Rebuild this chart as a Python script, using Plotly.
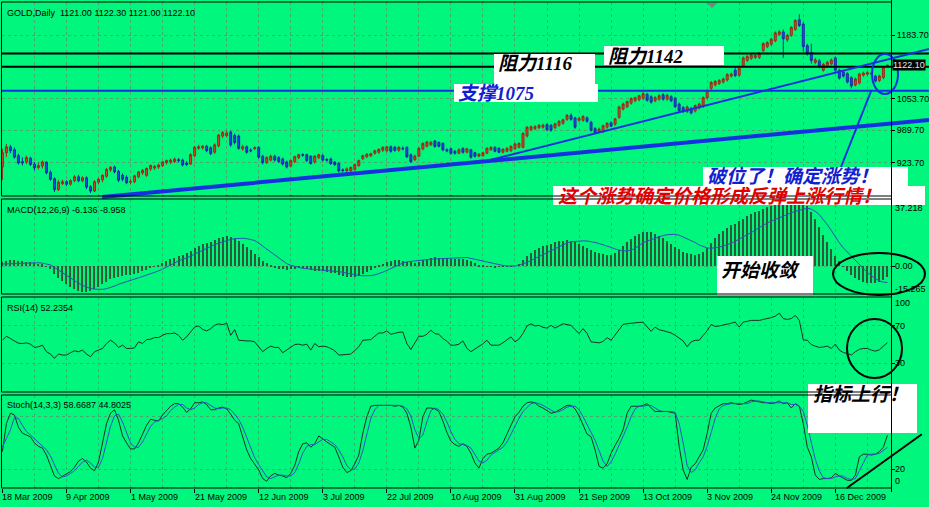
import plotly.graph_objects as go

# ------------------------------------------------------------------ data
OPEN = [915,944,956,950,938,926,925,933,921,914,
917,925,904,891,869,881,885,880,887,895,
887,893,875,866,884,889,896,909,915,906,
898,894,884,885,895,903,898,911,913,915,
918,924,925,926,930,929,923,921,938,953,
954,957,954,945,958,978,979,986,979,978,
952,956,949,952,955,937,924,929,937,934,
931,925,917,926,934,940,940,937,925,934,
938,930,931,925,922,909,907,907,910,918,
932,936,938,943,945,949,948,956,955,949,
953,955,940,930,937,952,957,960,968,965,
963,950,952,947,943,953,945,950,944,937,
938,943,950,955,953,945,947,948,952,955,
955,978,991,993,995,996,1001,1000,995,1000,
1004,1012,1020,1015,1010,1010,1015,1006,993,987,
987,996,1005,1002,1016,1033,1038,1045,1050,1052,
1055,1063,1058,1050,1053,1062,1053,1058,1055,1043,
1036,1028,1034,1029,1035,1038,1056,1075,1082,1085,
1088,1092,1100,1112,1102,1121,1132,1136,1138,1138,
1152,1160,1165,1172,1185,1190,1174,1183,1195,1215,
1206,1162,1148,1128,1131,1112,1120,1125,1137,1112,
1108,1105,1097,1082,1086,1102,1104,1106,1100,1091,
1097,1121]
HIGH = [952,962,960,955,942,935,938,936,925,924,
928,927,908,894,888,889,888,890,898,899,
896,896,878,888,893,900,913,917,918,909,
902,898,890,899,907,911,914,920,919,922,
927,930,932,934,933,932,927,943,958,960,
960,960,957,963,982,988,989,989,983,981,
960,959,953,957,957,940,937,940,940,937,
934,928,930,938,942,943,942,939,939,942,
941,933,934,927,925,912,914,916,922,930,
940,943,944,950,953,957,958,959,958,957,
957,957,943,940,955,965,968,968,970,967,
965,953,954,949,953,955,954,952,946,943,
946,955,957,957,955,953,955,959,964,965,
986,998,999,1000,1002,1003,1004,1002,1005,1010,
1013,1023,1024,1017,1016,1020,1018,1009,996,995,
1001,1006,1008,1015,1040,1046,1050,1057,1058,1062,
1067,1066,1061,1059,1063,1065,1064,1061,1058,1046,
1039,1040,1037,1042,1046,1059,1073,1090,1092,1094,
1097,1106,1107,1117,1119,1140,1143,1146,1145,1149,
1169,1171,1178,1191,1194,1195,1186,1202,1216,1226,
1210,1166,1166,1137,1135,1127,1131,1136,1140,1115,
1111,1108,1100,1097,1107,1109,1110,1109,1103,1103,
1120,1122.3]
LOW = [888,935,943,932,920,918,921,917,908,910,
912,900,887,864,866,878,876,877,884,884,
884,870,862,864,880,884,893,905,902,884,
886,880,880,882,892,899,895,907,909,911,
915,920,921,923,924,916,917,919,935,950,
950,945,939,942,955,974,975,956,961,950,
948,942,945,950,932,920,921,926,926,923,
918,912,914,923,931,936,925,920,922,931,
926,926,919,917,904,904,904,905,908,915,
929,933,935,940,942,946,945,944,946,946,
949,933,923,927,935,949,955,958,954,955,
947,945,940,940,941,942,943,932,934,935,
936,941,948,945,943,943,945,946,950,953,
953,975,988,990,992,993,988,987,992,997,
1001,1009,1009,993,1007,1007,1005,987,982,984,
984,993,996,999,1013,1030,1035,1042,1047,1049,
1052,1048,1044,1047,1050,1050,1050,1047,1035,1027,
1025,1025,1022,1026,1032,1035,1053,1072,1079,1082,
1085,1089,1097,1098,1099,1118,1129,1133,1135,1135,
1149,1157,1162,1169,1182,1137,1170,1180,1192,1200,
1150,1142,1125,1124,1116,1109,1117,1122,1109,1093,
1097,1085,1075,1079,1083,1099,1101,1102,1087,1088,
1094,1121]
CLOSE = [944,956,948,935,923,923,934,920,913,918,
925,903,890,869,884,885,880,887,895,887,
893,874,866,885,890,898,910,914,905,888,
890,883,885,897,905,908,912,918,916,919,
925,928,929,931,928,919,920,940,955,956,
957,948,942,960,980,985,984,960,965,953,
956,945,948,954,935,924,934,937,929,926,
921,915,928,936,940,939,928,922,937,940,
929,929,922,920,907,908,911,914,920,928,
938,941,942,948,951,955,956,947,949,955,
952,936,926,937,953,963,966,965,957,957,
950,948,943,943,950,945,952,935,937,941,
944,953,955,947,945,951,953,957,962,963,
983,996,997,997,1000,1000,991,990,1003,1008,
1011,1020,1012,996,1014,1018,1008,990,985,992,
999,1004,998,1013,1037,1043,1048,1054,1056,1060,
1064,1051,1047,1056,1060,1053,1061,1050,1038,1030,
1028,1037,1025,1040,1043,1056,1070,1087,1089,1091,
1094,1103,1104,1101,1116,1137,1140,1143,1142,1146,
1166,1168,1175,1188,1190,1176,1183,1199,1213,1203,
1160,1147,1132,1133,1120,1124,1128,1133,1112,1096,
1100,1088,1080,1094,1104,1106,1107,1105,1090,1100,
1118,1122.1]

MACD_MAIN = [2.4,2.9,3.3,3.4,3.1,2.8,2.6,2.4,2.0,1.5,
1.1,0.2,-1.6,-4.2,-6.4,-8.2,-9.8,-11.2,-12.4,-13.4,
-14.0,-14.2,-13.6,-12.4,-11.2,-10.0,-8.6,-7.2,-6.2,-5.6,
-5.2,-5.0,-4.8,-4.2,-3.4,-2.6,-1.8,-1.0,-0.2,0.8,
1.8,2.8,3.8,4.8,5.6,6.4,7.4,8.6,10.0,11.2,
12.2,13.0,13.6,14.4,15.4,16.2,16.6,16.0,15.0,13.8,
12.4,10.8,9.0,7.0,5.0,3.2,1.6,0.4,-0.6,-1.2,
-1.6,-1.8,-1.6,-1.3,-1.0,-1.0,-1.4,-1.9,-2.3,-2.5,
-2.7,-3.0,-3.4,-3.8,-4.6,-5.3,-5.8,-6.0,-5.7,-5.1,
-4.3,-3.3,-2.1,-0.9,0.3,1.4,2.4,3.1,3.5,3.6,
3.2,2.6,2.2,2.1,2.6,3.4,4.1,4.7,5.0,4.9,
4.7,4.4,4.1,3.8,3.8,3.9,3.6,2.8,1.8,0.9,
0.3,-0.1,-0.3,-0.4,-0.2,-0.1,-0.2,-0.1,0.0,1.5,
3.5,5.5,7.5,9.0,10.2,11.2,12.0,12.6,13.2,13.8,
14.2,14.4,14.0,13.2,12.4,11.3,10.2,9.0,8.0,7.2,
6.6,6.3,6.5,7.2,8.8,11.0,13.2,15.2,16.8,18.0,
18.8,19.2,18.8,18.0,17.0,15.6,14.0,12.4,10.8,9.4,
8.2,7.2,6.6,6.4,6.8,8.0,10.2,13.0,15.6,17.8,
19.6,21.2,22.6,23.6,24.8,26.2,27.6,28.8,29.8,30.6,
31.6,32.6,33.4,34.2,35.0,35.4,35.8,36.4,37.0,37.2,
35.8,33.4,30.0,26.0,21.8,17.4,13.2,9.4,6.0,2.8,
0.2,-2.4,-4.6,-6.4,-7.8,-8.6,-9.1,-9.3,-9.2,-8.6,
-7.4,-6.1]
MACD_SIGNAL = [1.3,1.4,1.5,1.7,1.8,1.9,2.0,2.0,2.0,2.0,
1.8,1.4,0.8,-0.6,-2.1,-3.6,-5.1,-6.6,-8.0,-9.3,
-10.5,-11.5,-12.2,-12.6,-12.8,-12.7,-12.3,-11.8,-10.9,-9.9,
-9.1,-8.4,-7.7,-7.0,-6.3,-5.6,-4.9,-4.3,-3.4,-2.5,
-1.5,-0.5,0.7,1.9,3.0,3.8,4.6,5.6,6.8,7.9,
9.0,10.0,11.0,12.0,12.8,13.6,14.3,14.9,15.3,15.5,
15.5,15.3,15.0,14.3,12.8,11.2,9.5,7.8,6.0,4.4,
2.8,1.5,0.6,-0.1,-0.7,-1.1,-1.3,-1.5,-1.6,-1.8,
-1.9,-2.0,-2.2,-2.5,-2.9,-3.3,-3.8,-4.3,-4.7,-5.0,
-5.2,-5.3,-5.1,-4.7,-4.1,-3.2,-2.2,-1.2,0.0,1.0,
1.8,2.5,2.8,3.0,3.3,3.6,3.8,4.0,4.1,4.2,
4.3,4.4,4.4,4.5,4.6,4.8,4.9,4.4,3.9,3.3,
2.6,2.1,1.6,1.1,0.8,0.5,0.3,0.2,0.2,0.6,
1.2,2.2,3.3,4.4,5.4,6.6,7.8,8.9,10.0,11.0,
12.0,12.9,13.6,13.9,14.0,14.1,14.0,13.7,13.2,12.6,
12.0,11.4,10.5,9.6,8.9,8.5,8.6,8.9,10.0,11.5,
13.0,14.0,14.8,15.5,16.3,17.0,17.5,17.7,17.7,17.2,
16.2,15.4,14.6,13.2,11.8,10.8,10.2,10.0,10.2,10.6,
11.2,11.8,12.8,13.9,15.0,16.1,17.3,18.7,20.1,21.5,
22.9,24.0,25.0,26.0,26.9,27.7,28.7,29.6,30.4,31.1,
31.7,32.1,31.6,30.4,28.6,26.0,23.0,19.8,16.0,13.0,
10.2,7.8,5.5,3.3,1.0,-1.2,-3.3,-5.2,-6.8,-8.0,
-8.7,-8.96]
RSI = [54.7,59.0,56.5,54.0,51.5,51.2,51.9,50.5,47.0,47.7,
49.4,42.4,39.9,35.3,40.0,38.8,38.8,41.3,43.4,42.4,
44.1,39.9,37.0,42.4,44.1,45.9,51.2,54.7,51.9,47.0,
49.4,45.9,45.9,46.6,53.0,51.2,55.4,55.8,57.6,57.6,
60.0,61.8,61.8,62.5,60.0,54.7,58.3,63.6,68.9,70.0,
66.4,64.7,67.1,70.7,72.4,71.4,73.1,60.0,66.1,54.7,
54.0,54.0,54.0,53.0,47.7,42.4,45.9,48.4,47.0,47.0,
41.3,44.1,47.0,50.1,50.5,49.4,50.5,44.1,51.2,47.7,
48.4,47.7,45.9,43.4,38.8,38.8,39.5,39.9,44.1,47.7,
54.7,54.7,55.4,59.0,62.5,62.5,64.7,61.1,62.5,63.2,
63.6,51.2,44.8,51.9,59.0,59.0,61.1,65.4,61.8,61.1,
56.5,53.7,49.4,49.4,50.5,54.0,46.0,42.4,45.0,47.7,
51.0,54.7,49.4,49.4,49.4,52.0,54.7,58.3,53.0,56.0,
62.0,70.0,72.4,70.0,70.7,68.5,67.8,70.7,67.8,70.0,
72.4,71.5,70.7,66.1,62.0,67.1,62.0,53.0,52.5,51.9,
53.5,57.5,54.7,60.0,65.4,71.7,72.5,73.1,73.5,73.8,
74.0,69.0,64.3,68.9,66.0,65.0,63.6,62.5,60.0,57.0,
54.0,47.7,53.0,54.7,54.7,60.0,65.0,71.7,69.5,70.0,
71.4,72.0,73.0,74.2,68.9,74.2,75.0,76.0,76.0,76.0,
77.0,77.8,79.0,80.5,83.8,78.0,77.0,78.0,81.3,76.0,
55.0,54.7,50.0,48.4,47.0,47.5,48.4,45.9,50.5,44.1,
41.5,40.6,38.8,42.4,45.0,45.9,45.9,44.1,43.0,44.5,
48.0,52.2]
STOCH_K = [40,72,84,82,68,61,59,57,50,46,
44,36,24,12,9,12,15,17,22,29,
32,28,21,18,28,50,72,84,88,76,
58,50,43,43,50,60,70,77,76,75,
82,87,92,95,95,91,85,89,96,96,
97,94,88,88,90,91,89,83,76,72,
57,42,32,25,19,9,6,12,15,13,
12,10,15,24,40,49,50,45,49,58,
54,51,48,45,34,22,16,18,26,36,
61,80,92,93,93,93,93,93,92,93,
91,84,68,44,53,80,90,90,89,86,
75,62,52,48,46,49,46,38,27,21,
32,37,38,41,44,50,60,69,80,85,
92,96,97,96,92,90,87,84,85,88,
91,93,93,89,81,70,60,57,42,23,
21,26,38,47,55,65,84,92,92,92,
93,95,90,86,86,86,86,85,84,46,
19,8,22,26,34,42,61,84,90,93,
95,95,96,95,94,95,97,99,98,97,
96,96,95,96,98,95,96,90,95,92,
72,45,34,13,8,9,9,10,15,12,
9,7,7,13,34,37,37,36,37,40,
45,58.7]
STOCH_D = [45,55,65,79,78,70,63,59,55,51,
47,42,35,24,15,11,12,15,18,23,
28,30,27,22,22,32,50,69,81,83,
74,61,50,45,45,51,60,69,74,76,
78,81,87,91,94,94,90,88,90,94,
96,96,93,90,89,90,90,88,83,77,
68,57,44,33,25,18,11,9,11,13,
13,12,12,16,26,38,46,48,48,51,
54,54,51,48,42,34,24,19,20,27,
41,59,78,88,93,93,93,93,93,93,
92,89,81,65,55,59,74,87,90,88,
83,74,63,54,49,48,47,44,37,29,
27,30,36,39,41,45,51,60,70,78,
86,91,95,96,95,93,90,87,85,86,
88,91,92,92,88,80,70,62,53,41,
29,23,28,37,47,56,68,80,89,92,
92,93,93,90,87,86,86,86,85,72,
50,24,16,19,27,34,46,62,78,89,
93,94,95,95,95,95,95,97,98,98,
97,96,96,96,96,96,96,94,94,92,
86,70,50,31,18,10,9,9,11,12,
12,9,8,9,18,28,36,37,37,38,
41,44.8]

DATE_LABELS = ["18 Mar 2009", "9 Apr 2009", "1 May 2009", "21 May 2009", "12 Jun 2009",
               "3 Jul 2009", "22 Jul 2009", "10 Aug 2009", "31 Aug 2009", "21 Sep 2009",
               "13 Oct 2009", "3 Nov 2009", "24 Nov 2009", "16 Dec 2009"]
DATE_LABEL_BARS = [0, 16, 32, 48, 64, 80, 96, 112, 128, 144, 160, 176, 192, 208]

PRICE_TICKS = [923.7, 989.7, 1053.7, 1118.7, 1183.7]
PRICE_TICK_TEXT = ["923.70", "989.70", "1053.70", "", "1183.70"]
LAST_PRICE = 1122.10

RESISTANCE = [1146, 1119]
SUPPORT = [1070]
TREND_THICK = [(24.9, 853.9), (231.4, 1010.7)]   # (bar index, price)
TREND_THIN = [(121.8, 929.2), (231.4, 1155.2)]
STOCH_TREND = [(210.8, -2.1), (229.6, 59.8)]      # (bar index, stoch value)

MACD_LABELS = [("37.218", 37.218), ("0.00", 0.0), ("-15.265", -15.265)]
RSI_LABELS = [("100", 100), ("70", 70), ("30", 30)]
STOCH_LABELS = [("20", 20), ("0", 0)]

# ------------------------------------------------------------------ geometry / style
W, H = 929, 507
BG = "#00F67C"
GRID = "#3fae6c"
FONT = "Liberation Sans, Arial, sans-serif"
CJK = "Liberation Serif, Noto Sans CJK SC, serif"
BLUE = "#1530e0"

PLOT_L, PLOT_R = 2, 891
MAIN = (2, 196)
MACDP = (199, 294)
RSIP = (297, 392)
STOP = (395, 488)
XR = [-0.1, 221.9]
YR_MAIN = [855.9, 1250.9]
YR_MACD = [-15.265, 37.218]
YR_RSI = [-0.8, 101.1]
YR_STOCH = [-1.8, 104.9]


def px(x):
    return x / W


def py(y):
    return 1 - y / H


def dom(panel):
    return [1 - panel[1] / H, 1 - panel[0] / H]


def bar_px(i):
    return PLOT_L + (i - XR[0]) / (XR[1] - XR[0]) * (PLOT_R - PLOT_L)


def val_py(v, panel, yr):
    return panel[0] + (yr[1] - v) / (yr[1] - yr[0]) * (panel[1] - panel[0])


idx = list(range(len(CLOSE)))

fig = go.Figure()
fig.add_trace(go.Candlestick(
    x=idx, open=OPEN, high=HIGH, low=LOW, close=CLOSE, xaxis="x", yaxis="y",
    increasing=dict(line=dict(color="#9a2a16", width=1), fillcolor="#d4472a"),
    decreasing=dict(line=dict(color="#1a2da8", width=1), fillcolor="#2448e4"),
    whiskerwidth=0, showlegend=False, hoverinfo="skip"))
fig.add_trace(go.Bar(x=idx, y=MACD_MAIN, xaxis="x2", yaxis="y2", width=0.3,
                     marker=dict(color="#2e5a38", line=dict(width=0)),
                     showlegend=False, hoverinfo="skip"))
fig.add_trace(go.Scatter(x=idx, y=MACD_SIGNAL, xaxis="x2", yaxis="y2", mode="lines",
                         line=dict(color="#2b52b8", width=1), showlegend=False, hoverinfo="skip"))
fig.add_trace(go.Scatter(x=idx, y=RSI, xaxis="x3", yaxis="y3", mode="lines",
                         line=dict(color="#1c3326", width=1), showlegend=False, hoverinfo="skip"))
fig.add_trace(go.Scatter(x=idx, y=STOCH_K, xaxis="x4", yaxis="y4", mode="lines",
                         line=dict(color="#1c3326", width=1), showlegend=False, hoverinfo="skip"))
fig.add_trace(go.Scatter(x=idx, y=STOCH_D, xaxis="x4", yaxis="y4", mode="lines",
                         line=dict(color="#2b52c8", width=1), showlegend=False, hoverinfo="skip"))

xcommon = dict(range=XR, domain=[PLOT_L / W, PLOT_R / W], showticklabels=False,
               showgrid=True, gridcolor=GRID, griddash="3px,3px", gridwidth=1,
               tickmode="linear", tick0=0, dtick=16,
               minor=dict(tick0=0, dtick=8, showgrid=True, gridcolor=GRID,
                          griddash="3px,3px", gridwidth=1, ticks=""),
               zeroline=False, showline=False, fixedrange=True)
ycommon = dict(side="right", showgrid=True, gridcolor=GRID, griddash="3px,3px", gridwidth=1,
               zeroline=False, showline=False, fixedrange=True, ticks="outside", ticklen=3,
               tickcolor="black", tickmode="array")

fig.update_layout(
    width=W, height=H, margin=dict(l=0, r=0, t=0, b=0),
    paper_bgcolor=BG, plot_bgcolor=BG, showlegend=False, bargap=0,
    font=dict(family=FONT, size=9, color="black"),
    xaxis=dict(**xcommon, anchor="y", rangeslider=dict(visible=False)),
    xaxis2=dict(**xcommon, anchor="y2", matches="x"),
    xaxis3=dict(**xcommon, anchor="y3", matches="x"),
    xaxis4=dict(**xcommon, anchor="y4", matches="x", ticks="outside", ticklen=4,
                tickcolor="black", tickwidth=1),
    yaxis=dict(**ycommon, domain=dom(MAIN), range=YR_MAIN, anchor="x",
               tickvals=PRICE_TICKS, ticktext=PRICE_TICK_TEXT,
               tickfont=dict(family=FONT, size=9, color="black")),
    yaxis2=dict(**ycommon, domain=dom(MACDP), range=YR_MACD, anchor="x2",
                tickvals=[0], showticklabels=False),
    yaxis3=dict(**ycommon, domain=dom(RSIP), range=YR_RSI, anchor="x3",
                tickvals=[30, 70], showticklabels=False),
    yaxis4=dict(**ycommon, domain=dom(STOP), range=YR_STOCH, anchor="x4",
                tickvals=[20, 80], showticklabels=False),
)

shapes = []
# horizontal support / resistance lines
for lv in RESISTANCE:
    y = py(val_py(lv, MAIN, YR_MAIN))
    shapes.append(dict(type="line", xref="paper", yref="paper", x0=px(PLOT_L), x1=1, y0=y, y1=y,
                       line=dict(color="black", width=2), layer="above"))
for lv in SUPPORT:
    y = py(val_py(lv, MAIN, YR_MAIN))
    shapes.append(dict(type="line", xref="paper", yref="paper", x0=px(PLOT_L), x1=1, y0=y, y1=y,
                       line=dict(color=BLUE, width=2), layer="above"))
# trend lines
for pts, wdt in ((TREND_THICK, 4), (TREND_THIN, 2)):
    (i0, p0), (i1, p1) = pts
    shapes.append(dict(type="line", xref="paper", yref="paper",
                       x0=px(bar_px(i0)), y0=py(val_py(p0, MAIN, YR_MAIN)),
                       x1=px(bar_px(i1)), y1=py(val_py(p1, MAIN, YR_MAIN)),
                       line=dict(color=BLUE, width=wdt), layer="above"))
(i0, s0), (i1, s1) = STOCH_TREND
shapes.append(dict(type="line", xref="paper", yref="paper",
                   x0=px(bar_px(i0)), y0=py(val_py(s0, STOP, YR_STOCH)),
                   x1=px(bar_px(i1)), y1=py(val_py(s1, STOP, YR_STOCH)),
                   line=dict(color="black", width=2), layer="above"))

# white note boxes (pixel rectangles: x0, y0, x1, y1)
BOXES = [(494, 54, 595, 84), (454, 84, 598, 102), (604, 46, 724, 65),
         (703, 167, 908, 186), (553, 186, 925, 205), (717, 256, 813, 295),
         (808, 384, 917, 433)]
for x0, y0, x1, y1 in BOXES:
    shapes.append(dict(type="rect", xref="paper", yref="paper", x0=px(x0), x1=px(x1),
                       y0=py(y1), y1=py(y0), fillcolor="white", line=dict(width=0), layer="above"))

# ellipses and connector
shapes.append(dict(type="circle", xref="paper", yref="paper", x0=px(872), x1=px(898), y0=py(94), y1=py(54),
                   line=dict(color=BLUE, width=2), layer="above"))
shapes.append(dict(type="line", xref="paper", yref="paper", x0=px(871.5), y0=py(90), x1=px(841), y1=py(167),
                   line=dict(color=BLUE, width=2), layer="above"))
shapes.append(dict(type="circle", xref="paper", yref="paper", x0=px(833), x1=px(925), y0=py(295), y1=py(253),
                   line=dict(color="black", width=2), layer="above"))
shapes.append(dict(type="circle", xref="paper", yref="paper", x0=px(847), x1=px(902), y0=py(378), y1=py(319),
                   line=dict(color="black", width=2), layer="above"))

# panel frames
for top, bot in (MAIN, MACDP, RSIP, STOP):
    shapes.append(dict(type="rect", xref="paper", yref="paper", x0=px(1.5), x1=px(891.5),
                       y0=py(bot), y1=py(top), line=dict(color="black", width=1),
                       fillcolor="rgba(0,0,0,0)", layer="above"))
shapes.append(dict(type="line", xref="paper", yref="paper", x0=px(891.5), x1=px(891.5),
                   y0=py(492), y1=py(0), line=dict(color="black", width=1), layer="above"))
# chart-shift marker
shapes.append(dict(type="path", xref="paper", yref="paper",
                   path=f"M {px(707)} {py(3)} L {px(717)} {py(3)} L {px(712)} {py(8)} Z",
                   fillcolor="#808080", line=dict(width=0), layer="above"))

ann = []


def label(x, y, text, size=9, color="black", family=FONT, **kw):
    ann.append(dict(xref="paper", yref="paper", x=px(x), y=py(y), text=text, showarrow=False,
                    xanchor="left", yanchor="middle", font=dict(family=family, size=size, color=color), **kw))


label(5, 13, "GOLD,Daily  1121.00 1122.30 1121.00 1122.10")
label(5, 210, "MACD(12,26,9) -6.136 -8.958")
label(5, 308, "RSI(14) 52.2354")
label(5, 405, "Stoch(14,3,3) 58.6687 44.8025")

for t, v in MACD_LABELS:
    yy = min(max(val_py(v, MACDP, YR_MACD), 208), 289)
    label(893, yy, t)
for t, v in RSI_LABELS:
    yy = min(max(val_py(v, RSIP, YR_RSI), 303), 388)
    label(893, yy, t)
for t, v in STOCH_LABELS:
    yy = min(max(val_py(v, STOP, YR_STOCH), 300), 481)
    label(893, yy, t)

label(892, val_py(LAST_PRICE, MAIN, YR_MAIN), f"{LAST_PRICE:.2f}", color="#e8e8e8",
      bgcolor="black", borderpad=0)

for b, t in zip(DATE_LABEL_BARS, DATE_LABELS):
    ann.append(dict(xref="x4", yref="paper", x=b, y=py(497), text=t, showarrow=False,
                    xanchor="left", yanchor="middle", xshift=-2,
                    font=dict(family=FONT, size=9, color="black")))

cjk = dict(family=CJK, size=19, style="italic", weight="bold")
NOTES = [
    (496, 64, "阻力1116", "black"),
    (456, 93, "支撑1075", "#1020d0"),
    (606, 56, "阻力1142", "black"),
    (705, 176, "破位了！确定涨势！", "#1020d0"),
    (556, 196, "这个涨势确定价格形成反弹上涨行情！", "#e00000"),
    (719, 270, "开始收敛", "black"),
    (811, 394, "指标上行！", "black"),
]
for x, y, t, c in NOTES:
    ann.append(dict(xref="paper", yref="paper", x=px(x), y=py(y), text=t, showarrow=False,
                    xanchor="left", yanchor="middle", font=dict(color=c, **cjk)))

fig.update_layout(shapes=shapes, annotations=ann)
fig.write_html("out.html", include_plotlyjs=True, config={"displayModeBar": False},
               post_script="document.body.style.margin='0';document.body.style.overflow='hidden';")
